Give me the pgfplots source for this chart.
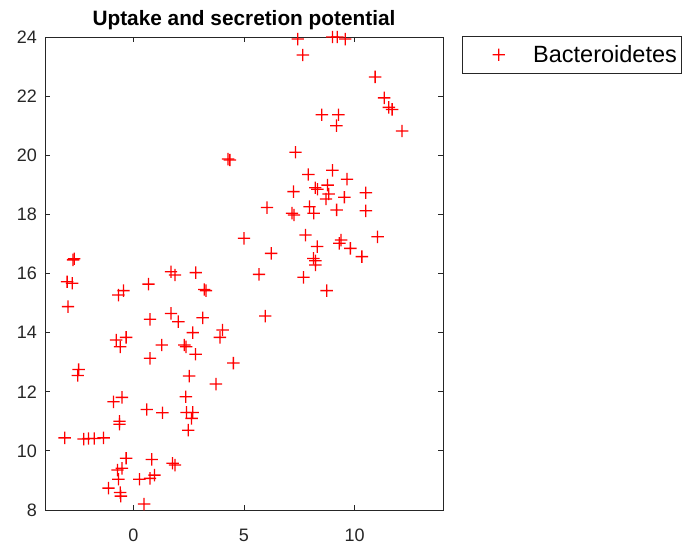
\documentclass[border=0pt]{standalone}
\usepackage{pgfplots}
\pgfplotsset{compat=1.18}
\usepackage{fontspec}
\setmainfont{Liberation Sans}
\definecolor{axgray}{RGB}{38,38,38}
% filled plus sign, colour set inside the mark itself
\pgfdeclareplotmark{redplus}{%
  \pgfsetfillcolor{red}%
  \pgfpathrectangle{\pgfpoint{-\pgfplotmarksize}{-0.65pt}}{\pgfpoint{2\pgfplotmarksize}{1.3pt}}%
  \pgfpathrectangle{\pgfpoint{-0.65pt}{-\pgfplotmarksize}}{\pgfpoint{1.3pt}{2\pgfplotmarksize}}%
  \pgfusepathqfill}

\begin{document}
\begin{tikzpicture}
\useasboundingbox (-45pt,-36pt) rectangle (640pt,510pt);
\begin{axis}[
  at={(0pt,0pt)}, anchor=south west,
  scale only axis,
  width=398pt, height=473pt,
  xmin=-4, xmax=14,
  ymin=8, ymax=24,
  xtick={0,5,10},
  ytick={8,10,...,24},
  tick align=inside,
  major tick length=5pt,
  axis line style={axgray, line width=0.8pt},
  every tick/.style={axgray, line width=0.8pt},
  tick label style={font=\fontsize{18}{20}\selectfont, text=axgray},
  /pgf/number format/assume math mode=true,
  xticklabel style={anchor=base, yshift=-31pt},
  yticklabel style={anchor=east, inner sep=0pt, xshift=-8pt},
  title={Uptake and secretion potential},
  title style={font=\bfseries\fontsize{20.8}{23}\selectfont,
    at={(0.5,1)}, anchor=base, yshift=5.5pt},
  legend style={at={(1.0477,1.002)}, anchor=north west, draw=axgray, line width=0.8pt,
    inner xsep=2pt, inner ysep=5pt, font=\fontsize{23.5}{25}\selectfont,
    nodes={inner xsep=3pt, inner ysep=4pt}, column sep=0pt},
  legend cell align=left,
  legend image code/.code={
    \path (0pt,-1pt) (65pt,1pt);
    \path[mark repeat=2, mark phase=2, mark=redplus, mark size=6.2pt]
      plot coordinates {(0pt,0pt)(34pt,0pt)(52pt,0pt)};},
]
\addplot[only marks, red, mark=redplus, mark size=6.2pt]
  coordinates {
    (7.43,23.93)(7.66,23.39)(9.0,24.0)(9.22,24.0)(9.58,23.93)
    (10.93,22.65)(11.34,21.94)(11.55,21.62)(11.7,21.55)(12.15,20.82)
    (8.52,21.37)(9.27,21.37)(9.18,21.0)(7.33,20.1)(4.28,19.87)(4.36,19.84)
    (9.0,19.49)(7.91,19.35)(9.66,19.19)(8.22,18.9)(8.32,18.85)(8.78,18.99)
    (8.83,18.69)(8.71,18.52)(9.54,18.58)(10.51,18.73)(7.24,18.77)(6.04,18.23)
    (7.17,18.04)(7.26,17.98)(7.96,18.26)(8.15,18.04)(9.19,18.15)(10.51,18.12)
    (7.78,17.30)(8.31,16.91)(9.39,17.13)(9.31,17.02)(9.81,16.85)(11.04,17.24)
    (10.33,16.57)(5.0,17.19)(6.23,16.68)(8.14,16.51)(8.23,16.43)(8.23,16.29)
    (5.68,15.97)(7.69,15.87)(8.74,15.42)(5.96,14.56)(4.52,12.97)
    (-2.73,16.46)(-2.68,16.5)(-3.0,15.72)(-2.77,15.67)(-2.96,14.88)
    (-0.68,15.27)(-0.45,15.42)(0.68,15.64)(1.70,16.06)(1.88,15.95)(2.82,16.03)
    (3.2,15.46)(3.28,15.42)(1.70,14.65)(2.03,14.37)(0.75,14.45)(3.13,14.50)
    (-0.78,13.75)(-0.33,13.84)(-0.6,13.52)(2.68,14.0)(1.28,13.58)
    (2.30,13.58)(2.38,13.52)(2.81,13.27)(4.03,14.09)(3.91,13.84)(0.75,13.13)
    (-2.48,12.75)(-2.52,12.55)(2.52,12.53)(3.73,12.26)(2.37,11.83)
    (-0.52,11.81)(-0.9,11.66)(0.6,11.40)(1.31,11.29)(2.4,11.30)(2.68,11.30)
    (2.63,11.10)(2.48,10.70)(-0.63,11.0)(-0.63,10.9)
    (-3.11,10.44)(-2.25,10.40)(-2.03,10.42)(-1.77,10.42)(-1.35,10.44)
    (-0.33,9.75)(-0.72,9.35)(-0.52,9.41)(-0.68,9.04)(0.83,9.71)
    (1.77,9.58)(1.88,9.52)(0.95,9.18)(0.75,9.07)(0.27,9.04)
    (-1.13,8.74)(-0.6,8.59)(-0.57,8.47)(0.48,8.20)
  };
\addlegendentry{Bacteroidetes}
\end{axis}
\end{tikzpicture}
\end{document}
